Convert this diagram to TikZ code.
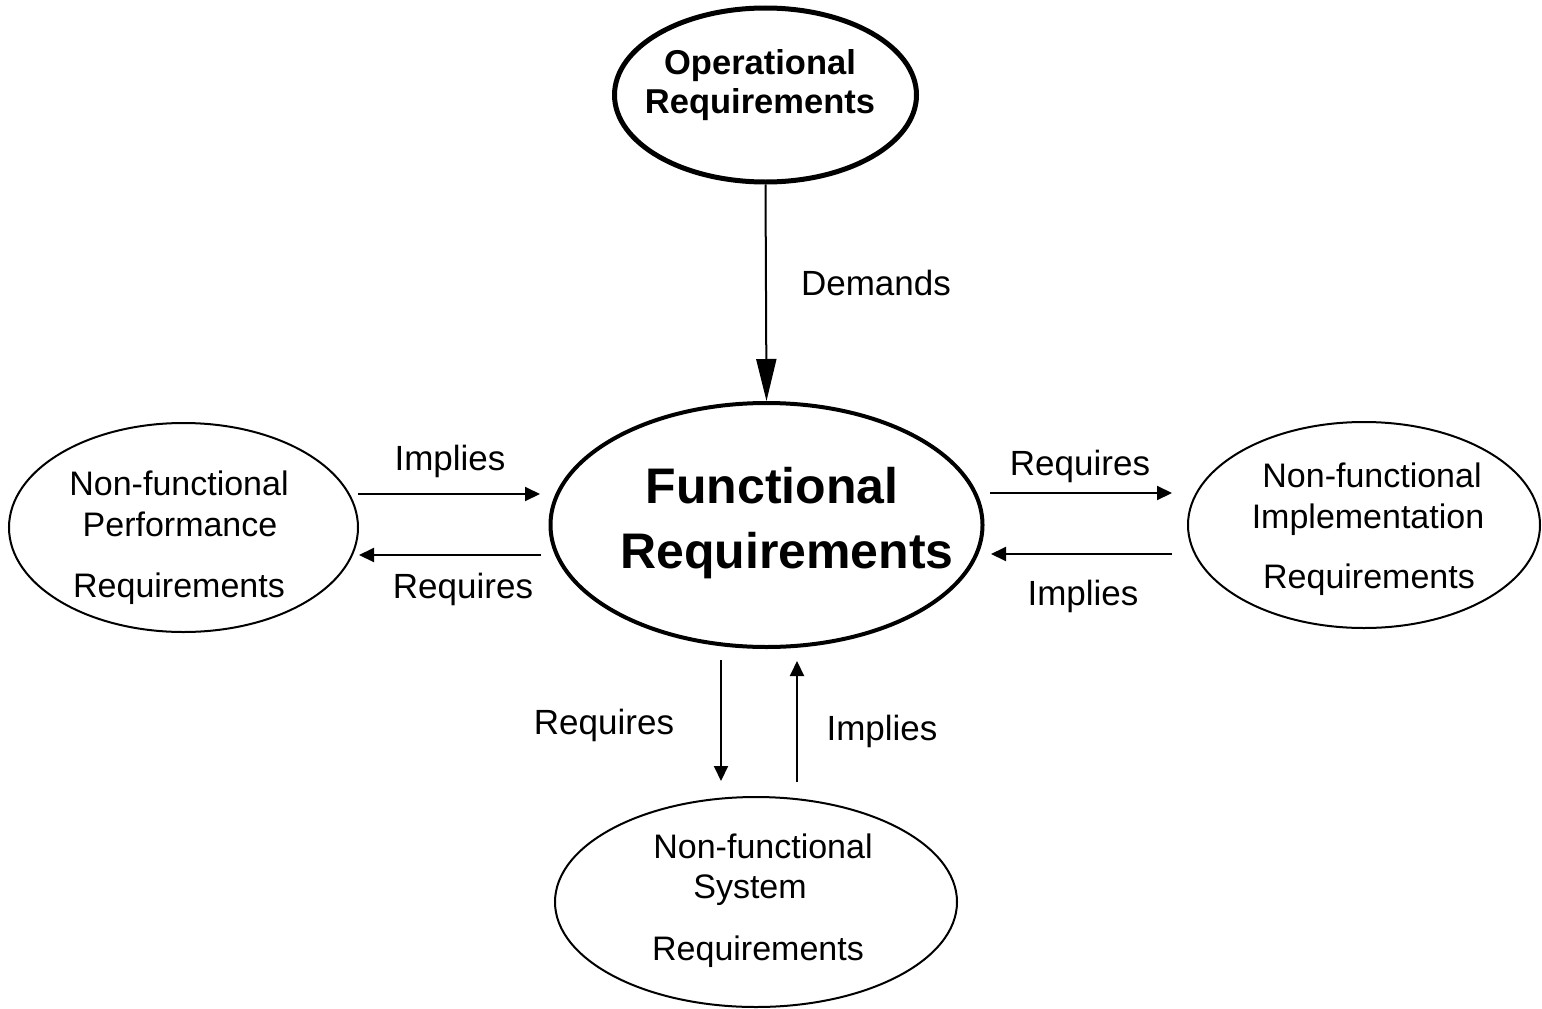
\documentclass[tikz,border=0pt]{standalone}
\usepackage{fontspec}
\setmainfont{Liberation Sans}
\usetikzlibrary{shapes.geometric,arrows.meta}
\begin{document}
\begin{tikzpicture}[x=1pt,y=-1pt,
  bubble/.style={ellipse,draw,inner sep=0pt,line width=2pt},
  bodytext/.style={anchor=base,inner sep=0pt,font=\fontsize{34}{40}\selectfont},
  boldtext/.style={anchor=base,inner sep=0pt,font=\fontsize{34.5}{40}\selectfont\bfseries},
  bigtext/.style={anchor=base,inner sep=0pt,font=\fontsize{50}{60}\selectfont\bfseries},
  linktext/.style={anchor=base,inner sep=0pt,font=\fontsize{35}{40}\selectfont},
  link/.style={line width=2pt,-{Triangle[length=15pt,width=14pt]}},
  biglink/.style={line width=2pt,-{Triangle[length=42pt,width=20pt]}}]
\useasboundingbox (0,0) rectangle (1542,1009);

% ellipses
\node[bubble,line width=5pt,minimum width=302pt,minimum height=174pt] (oper) at (765.5,95) {};
\node[bubble,line width=4pt,minimum width=432pt,minimum height=244pt] (func) at (766.5,525) {};
\node[bubble,minimum width=349pt,minimum height=209pt] (perf) at (183.5,527.5) {};
\node[bubble,minimum width=352pt,minimum height=206pt] (impl) at (1364,525) {};
\node[bubble,minimum width=402pt,minimum height=210pt] (syst) at (756,902) {};

% ellipse texts
\node[boldtext] (oper1) at (760,74) {Operational};
\node[boldtext] (oper2) at (760,113) {Requirements};
\node[bigtext] (func1) at (772,503) {Functional};
\node[bigtext] (func2) at (787,568) {Requirements};
\node[bodytext] (perf1) at (179,495) {Non-functional};
\node[bodytext] (perf2) at (180,536) {Performance};
\node[bodytext] (perf3) at (179,597) {Requirements};
\node[bodytext] (impl1) at (1372,487) {Non-functional};
\node[bodytext] (impl2) at (1368,528) {Implementation};
\node[bodytext] (impl3) at (1369,588) {Requirements};
\node[bodytext] (syst1) at (763,858) {Non-functional};
\node[bodytext] (syst2) at (750,898) {System};
\node[bodytext] (syst3) at (758,960) {Requirements};

% arrow end points
\coordinate (pI1) at (358,494);  \coordinate (pI2) at (540,494);
\coordinate (pR1) at (541,555);  \coordinate (pR2) at (359,555);
\coordinate (iR1) at (990,493);  \coordinate (iR2) at (1172,493);
\coordinate (iI1) at (1172,554); \coordinate (iI2) at (991,554);
\coordinate (sR1) at (721,660);  \coordinate (sR2) at (721,781);
\coordinate (sI1) at (797,782);  \coordinate (sI2) at (797,661);

% connectors
\draw[biglink] (oper.south) -- (func.north);
\draw[link] (pI1) -- (pI2);
\draw[link] (pR1) -- (pR2);
\draw[link] (iR1) -- (iR2);
\draw[link] (iI1) -- (iI2);
\draw[link] (sR1) -- (sR2);
\draw[link] (sI1) -- (sI2);

% connector labels
\node[linktext] (ldem) at (876,295) {Demands};
\node[linktext] (lpI) at (450,470) {Implies};
\node[linktext] (lpR) at (463,598) {Requires};
\node[linktext] (liR) at (1080,475) {Requires};
\node[linktext] (liI) at (1083,605) {Implies};
\node[linktext] (lsR) at (604,734) {Requires};
\node[linktext] (lsI) at (882,740) {Implies};
\end{tikzpicture}
\end{document}
